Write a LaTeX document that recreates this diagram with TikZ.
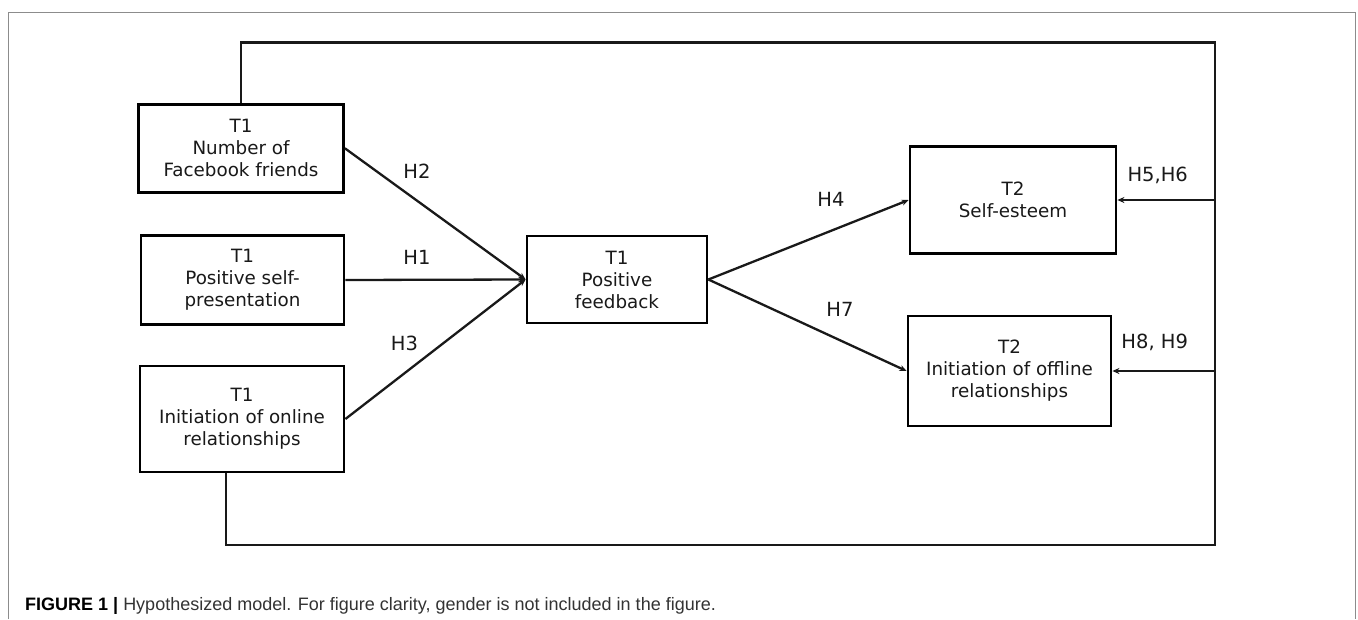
\documentclass[tikz,border=0pt]{standalone}
\usepackage{fontspec}
\setmainfont{DejaVu Sans}
\newfontfamily\capfont{Liberation Sans}
\usetikzlibrary{arrows.meta}
\begin{document}
\begin{tikzpicture}[x=1pt,y=-1pt,
  boxnode/.style={draw=black, line width=2.8pt, align=center, inner sep=0pt,
    font=\fontsize{18.3}{22}\selectfont, text=black!90},
  link/.style={line width=2.3pt, draw=black!90},
  arr/.style={link, -{Stealth[length=7pt,width=6pt]}},
  hlabel/.style={font=\fontsize{19.5}{22}\selectfont, text=black!90, inner sep=0pt},
  framel/.style={draw=black!45, line width=0.8pt}]
\useasboundingbox (0,0) rectangle (1358,619);
\fill[white] (0,0) rectangle (1358,619);
% outer frame
\coordinate (fbl) at (8,619);
\coordinate (ftl) at (8,12);
\coordinate (ftr) at (1355,12);
\coordinate (fbr) at (1355,619);
\draw[framel] (fbl) -- (ftl) -- (ftr) -- (fbr);
% boxes
\node[boxnode, minimum width=205pt, minimum height=88pt] (fb) at (241,148.3) {T1\\Number of\\Facebook friends};
\node[boxnode, minimum width=203pt, minimum height=88.5pt] (sp) at (242.5,280) {T1\\Positive self-\\presentation};
\node[boxnode, minimum width=204pt, minimum height=106pt] (on) at (242,419) {T1\\Initiation of online\\relationships};
\node[boxnode, minimum width=180pt, minimum height=87pt] (pf) at (617,279.5) {T1\\Positive\\feedback};
\node[boxnode, minimum width=206pt, minimum height=106.5pt] (se) at (1013,200) {T2\\Self-esteem};
\node[boxnode, minimum width=203pt, minimum height=110pt] (off) at (1009.5,371) {T2\\Initiation of offline\\relationships};
% loop line
\coordinate (tr) at (1215,42.6);
\coordinate (br) at (1215,545);
\draw[link] (fb.north) |- (tr) -- (br) -| ([xshift=-16pt]on.south);
% arrows
\draw[arr] (fb.east) -- (pf.west);
\draw[arr] (sp.east) -- (pf.west);
\draw[arr] (on.east) -- (pf.west);
\draw[arr] (pf.east) -- (se.west);
\draw[arr] (pf.east) -- (off.west);
\draw[arr] (se.east -| tr) -- (se.east);
\draw[arr] (off.east -| tr) -- (off.east);
% labels
\node[hlabel] (h2) at (417,171) {H2};
\node[hlabel] (h1) at (417,257) {H1};
\node[hlabel] (h3) at (404.5,343) {H3};
\node[hlabel] (h4) at (831,199.4) {H4};
\node[hlabel] (h7) at (840,309) {H7};
\node[hlabel] (h56) at (1157.7,175.7) {H5,H6};
\node[hlabel] (h89) at (1154.7,342.7) {H8, H9};
% caption
\node[anchor=west, inner sep=0pt, font=\capfont\fontsize{18}{21}\selectfont, text=black!80] (cap) at (25,606)
  {\textbf{\color{black}FIGURE 1 |} Hypothesized model. For figure clarity, gender is not included in the figure.};
\end{tikzpicture}
\end{document}
